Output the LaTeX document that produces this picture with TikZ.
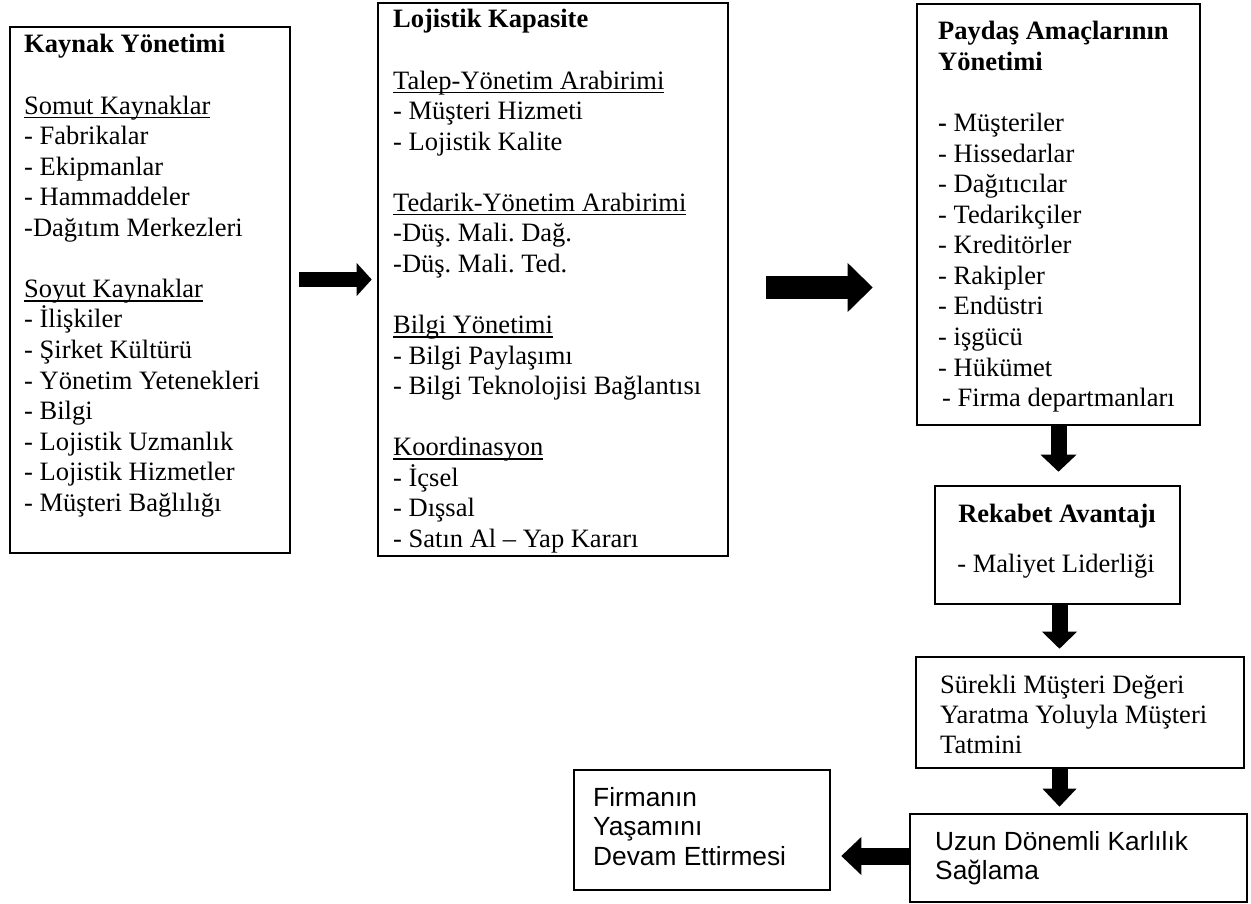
\documentclass[tikz,border=0pt]{standalone}
\usepackage{fontspec}
\setmainfont{Liberation Serif}
\newfontfamily\arialfont{Liberation Sans}
\usetikzlibrary{arrows.meta,calc}
\frenchspacing

% underlined heading, rule just under the baseline
\newcommand\ul[1]{\setbox0\hbox{#1}\rlap{\vrule width\wd0 height -2.6pt depth 4.2pt}\box0}
% one line of a text column
\newcommand\Ln[1]{\hbox{#1}}

\tikzset{
  box/.style={draw, line width=2.6pt, inner sep=0pt, minimum width=#1},
  txt/.style={anchor=base west, inner sep=0pt, font=\fontsize{26.5}{30.55}\selectfont},
  blockarrow/.style n args={3}{line width=#1,
    -{Triangle[length=#2, width=#3, line width=0pt]}},
}

\begin{document}
\begin{tikzpicture}[x=1pt, y=-1pt]
\useasboundingbox (0,0) rectangle (1251,904);

% ---- boxes (centre, width, height) ----
\node[box=280, minimum height=526] (k) at (150,290) {};
\node[box=350, minimum height=553] (l) at (553,279.5) {};
\node[box=283, minimum height=421] (p) at (1058.5,214.5) {};
\node[box=245, minimum height=118] (r) at (1057.5,545) {};
\node[box=328, minimum height=111] (s) at (1080,712.5) {};
\node[box=337, minimum height=88] (u) at (1078.5,858) {};
\node[box=256, minimum height=120] (f) at (702,830) {};

% ---- texts ----
\node[txt] (k-t) at (24,53) {\vtop{%
  \Ln{\bfseries Kaynak Yönetimi}\Ln{}%
  \Ln{\ul{Somut Kaynaklar}}%
  \Ln{- Fabrikalar}\Ln{- Ekipmanlar}\Ln{- Hammaddeler}\Ln{-Dağıtım Merkezleri}\Ln{}%
  \Ln{\ul{Soyut Kaynaklar}}%
  \Ln{- İlişkiler}\Ln{- Şirket Kültürü}\Ln{- Yönetim Yetenekleri}\Ln{- Bilgi}%
  \Ln{- Lojistik Uzmanlık}\Ln{- Lojistik Hizmetler}\Ln{- Müşteri Bağlılığı}}};

\node[txt] (l-t) at (393,28) {\vtop{%
  \Ln{\bfseries Lojistik Kapasite}\Ln{}%
  \Ln{\ul{Talep-Yönetim Arabirimi}}%
  \Ln{- Müşteri Hizmeti}\Ln{- Lojistik Kalite}\Ln{}%
  \Ln{\ul{Tedarik-Yönetim Arabirimi}}%
  \Ln{-Düş. Mali. Dağ.}\Ln{-Düş. Mali. Ted.}\Ln{}%
  \Ln{\ul{Bilgi Yönetimi}}%
  \Ln{- Bilgi Paylaşımı}\Ln{- Bilgi Teknolojisi Bağlantısı}\Ln{}%
  \Ln{\ul{Koordinasyon}}%
  \Ln{- İçsel}\Ln{- Dışsal}\Ln{- Satın Al – Yap Kararı}}};

\node[txt] (p-t) at (938,40) {\vtop{%
  \Ln{\bfseries Paydaş Amaçlarının}\Ln{\bfseries Yönetimi}\Ln{}%
  \Ln{{\bfseries -} Müşteriler}\Ln{- Hissedarlar}\Ln{- Dağıtıcılar}%
  \Ln{- Tedarikçiler}\Ln{- Kreditörler}\Ln{- Rakipler}\Ln{- Endüstri}%
  \Ln{- işgücü}\Ln{- Hükümet}\Ln{\kern4pt- Firma departmanları}}};

\node[txt, anchor=base] (r-t1) at (1057,522) {\bfseries Rekabet Avantajı};
\node[txt, anchor=base] (r-t2) at (1056,572) {- Maliyet Liderliği};

\node[txt, font=\fontsize{26.5}{30}\selectfont] (s-t) at (940,693) {\vtop{%
  \Ln{Sürekli Müşteri Değeri}\Ln{Yaratma Yoluyla Müşteri}\Ln{Tatmini}}};

\node[txt, font=\arialfont\fontsize{26.3}{29.5}\selectfont] (u-t) at (935,850) {\vtop{%
  \Ln{Uzun Dönemli Karlılık}\Ln{Sağlama}}};

\node[txt, font=\arialfont\fontsize{26.3}{29.5}\selectfont] (f-t) at (593,806) {\vtop{%
  \Ln{Firmanın}\Ln{Yaşamını}\Ln{Devam Ettirmesi}}};

% ---- block arrows ----
\draw[blockarrow={15pt}{15pt}{33pt}] ($(k.east |- l.west)+(8,0)$) -- ($(l.west)+(-5,0)$);
\draw[blockarrow={23pt}{25pt}{49pt}] ($(l.east)+(37,8)$) -- ($(p.west |- l.east)+(-43,8)$);
\draw[blockarrow={16pt}{17pt}{36pt}] (p.south) -- ($(r.north -| p.south)+(0,-13)$);
\draw[blockarrow={16pt}{17pt}{35pt}] ($(r.south)+(2,0)$) -- ($(r.south |- s.north)+(2,-7)$);
\draw[blockarrow={16pt}{18pt}{34pt}] ($(s.south -| r.south)+(2,0)$) -- ($(u.north -| r.south)+(2,-6)$);
\draw[blockarrow={17pt}{20pt}{38pt}] ($(u.west)+(0,-2)$) -- ($(f.east |- u.west)+(10,-2)$);
\end{tikzpicture}
\end{document}
